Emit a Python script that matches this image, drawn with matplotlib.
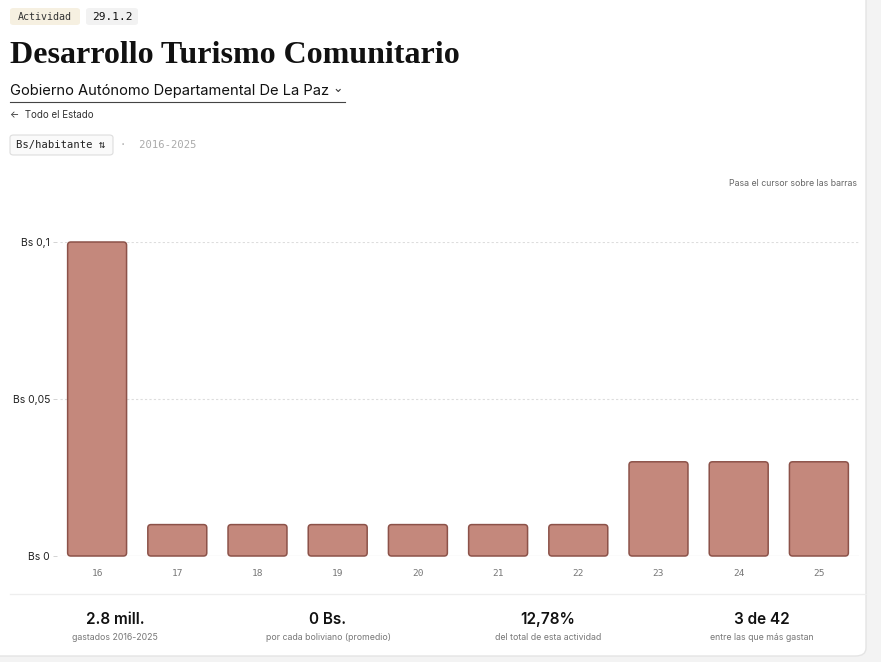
import matplotlib
matplotlib.use('Agg')
import matplotlib.pyplot as plt
from matplotlib.patches import FancyBboxPatch
from matplotlib.lines import Line2D

# data
years = ['16', '17', '18', '19', '20', '21', '22', '23', '24', '25']
values = [0.1, 0.01, 0.01, 0.01, 0.01, 0.01, 0.01, 0.03, 0.03, 0.03]
y_ticks = [0, 0.05, 0.1]
y_labels = ['Bs 0', 'Bs 0,05', 'Bs 0,1']
stat_values = ['2.8 mill.', '0 Bs.', '12,78%', '3 de 42']
stat_labels = ['gastados 2016-2025', 'por cada boliviano (promedio)',
               'del total de esta actividad', 'entre las que más gastan']

W, H = 881, 662
def fx(x): return x / W
def fy(y): return 1 - y / H

SANS = ['Inter', 'DejaVu Sans']
MONO = ['DejaVu Sans Mono']

fig = plt.figure(figsize=(W / 100, H / 100), dpi=100)
fig.patch.set_facecolor('#f3f3f3')

# white card, kept behind the axes
card = FancyBboxPatch((fx(-20), fy(656)), fx(886), 676 / H,
                      boxstyle='round,pad=0,rounding_size=0.012',
                      transform=fig.transFigure, facecolor='white',
                      edgecolor='#e4e4e4', lw=1.0, zorder=-10)
fig.patches.append(card)

# badges
def badge(x0, x1, y0, y1, fc, ec='none'):
    fig.patches.append(FancyBboxPatch((fx(x0), fy(y1)), fx(x1) - fx(x0), fy(y0) - fy(y1),
                                      boxstyle='round,pad=0,rounding_size=0.004',
                                      transform=fig.transFigure, facecolor=fc,
                                      edgecolor=ec, lw=0.8, zorder=-5))

badge(10, 80, 8, 25, '#f6f0e1')
badge(86, 138, 8, 25, '#f2f2f2')
fig.text(fx(45), fy(16.5), 'Actividad', family=MONO, fontsize=7.2, color='#333',
         ha='center', va='center')
fig.text(fx(112), fy(16.5), '29.1.2', family=MONO, fontsize=8, color='#111',
         ha='center', va='center')

# title
fig.text(fx(10), fy(63), 'Desarrollo Turismo Comunitario', family='Liberation Serif',
         weight='bold', fontsize=23, color='#111', va='baseline')

# subtitle with dropdown
fig.text(fx(10), fy(95), 'Gobierno Autónomo Departamental De La Paz', family=SANS,
         fontsize=10.6, color='#111', va='baseline')
fig.text(fx(338), fy(89), '⌄', family=['DejaVu Sans'], fontsize=9, color='#333',
         ha='center', va='center')
fig.lines.append(Line2D([fx(10), fx(345)], [fy(102), fy(102)], transform=fig.transFigure,
                        color='#444', lw=0.8))

fig.text(fx(10), fy(118), '←  Todo el Estado', family=SANS, fontsize=7, color='#333',
         va='baseline')

# unit selector
badge(10, 113, 135, 155, '#fafafa', ec='#dddddd')
fig.text(fx(16), fy(145), 'Bs/habitante ⇅', family=MONO, fontsize=7.6, color='#222',
         va='center')
fig.text(fx(120), fy(145), '·  2016-2025', family=MONO, fontsize=7.6, color='#aaaaaa',
         va='center')

fig.text(fx(857), fy(186), 'Pasa el cursor sobre las barras', family=SANS, fontsize=6.3,
         color='#666', ha='right', va='baseline')

# chart
ax = fig.add_axes([fx(57), fy(556), fx(859) - fx(57), fy(242) - fy(556)])
ax.set_xlim(-0.5, len(years) - 0.5)
ax.set_ylim(0, 0.1)
bars = ax.bar(range(len(years)), values, width=0.735)
for r in bars:
    r.set_visible(False)
    ax.add_patch(FancyBboxPatch((r.get_x(), 0), r.get_width(), r.get_height(),
                                boxstyle='round,pad=0,rounding_size=0.04',
                                mutation_aspect=0.0256, facecolor='#c4887c',
                                edgecolor='#8c5249', lw=1.1, clip_on=False, zorder=3))

for t in y_ticks[1:]:
    ax.axhline(t, xmin=0.004, color='#dddddd', lw=0.8, ls=(0, (2, 2)), zorder=1)
ax.axhline(0, xmin=0.004, color='#e6e6e6', lw=0.9, zorder=1)

ax.set_yticks(y_ticks)
ax.set_yticklabels(y_labels, family=SANS, fontsize=7.5, color='#222')
ax.set_xticks(range(len(years)))
ax.set_xticklabels(years, family=MONO, fontsize=6.8, color='#777')
ax.tick_params(axis='y', length=3, width=0.6, color='#cccccc', pad=2)
ax.tick_params(axis='x', length=0, pad=9)
for s in ax.spines.values():
    s.set_visible(False)
ax.patch.set_alpha(0)

# stats row
fig.lines.append(Line2D([fx(10), fx(866)], [fy(594), fy(594)], transform=fig.transFigure,
                        color='#eeeeee', lw=0.9))
centers = [115, 328, 548, 762]
for cx, v, l in zip(centers, stat_values, stat_labels):
    fig.text(fx(cx), fy(624), v, family=SANS, weight='semibold', fontsize=11,
             color='#111', ha='center', va='baseline')
    fig.text(fx(cx), fy(640), l, family=SANS, fontsize=6.3, color='#777',
             ha='center', va='baseline')

fig.savefig('out.png', dpi=100, facecolor=fig.get_facecolor())
